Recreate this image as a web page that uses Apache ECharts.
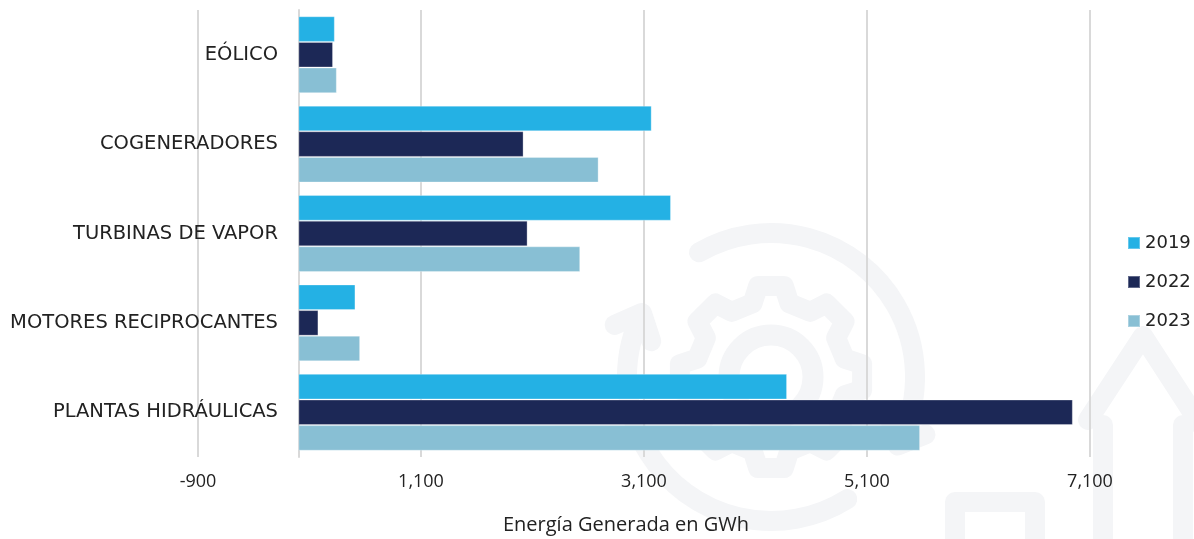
<!DOCTYPE html>
<html>
<head>
<meta charset="utf-8">
<title>Energía Generada en GWh</title>
<script src="https://cdn.jsdelivr.net/npm/echarts@6/dist/echarts.min.js"></script>
<style>
  html, body { margin: 0; padding: 0; background: #ffffff; }
  #chart { width: 1194px; height: 539px; }
</style>
</head>
<body>
<div id="chart"></div>
<script>
// Generation technologies (top to bottom)
const categories = ['EÓLICO', 'COGENERADORES', 'TURBINAS DE VAPOR', 'MOTORES RECIPROCANTES', 'PLANTAS HIDRÁULICAS'];
const years = ['2019', '2022', '2023'];

// Energy generated per technology, GWh
const gen2019 = [327, 3169, 3342, 512, 4383];
const gen2022 = [311, 2020, 2056, 180, 6946];
const gen2023 = [345, 2693, 2528, 554, 5576];

// Value axis range and tick step
const axisMin = -900;
const axisMax = 7100;
const axisStep = 2000;

const colors = ['#24b1e4', '#1c2856', '#88bfd4'];
const seriesValues = [gen2019, gen2022, gen2023];

// Faint background emblem: gear inside a circular arrow, plus a house outline
const mark = '#f4f5f7';
const cx = 771, cy = 377;
function gearPoints(rTip, rRoot, teeth) {
  const pts = [];
  const step = 360 / teeth;
  for (let k = 0; k < teeth; k++) {
    const c = -90 + k * step;
    [[rRoot, c - 14], [rTip, c - 8], [rTip, c + 8], [rRoot, c + 14]].forEach(([r, a]) => {
      const t = a * Math.PI / 180;
      pts.push([cx + r * Math.cos(t), cy + r * Math.sin(t)]);
    });
  }
  return pts;
}
function chevron(angleDeg, r, len, spread, dir) {
  const a = angleDeg * Math.PI / 180;
  const px = cx + r * Math.cos(a), py = cy + r * Math.sin(a);
  const tx = -Math.sin(a) * dir, ty = Math.cos(a) * dir;
  const nx = Math.cos(a), ny = Math.sin(a);
  return [
    [px - len * tx + spread * nx, py - len * ty + spread * ny],
    [px + 6 * tx, py + 6 * ty],
    [px - len * tx - spread * nx, py - len * ty - spread * ny]
  ];
}
const deg = d => d * Math.PI / 180;
const lineStyle = { fill: null, stroke: mark, lineWidth: 20, lineCap: 'round', lineJoin: 'round' };
const emblem = [
  { type: 'arc', shape: { cx, cy, r: 144, startAngle: deg(-120), endAngle: deg(26), clockwise: true }, style: lineStyle },
  { type: 'arc', shape: { cx, cy, r: 144, startAngle: deg(58), endAngle: deg(204), clockwise: true }, style: lineStyle },
  { type: 'polyline', shape: { points: chevron(204, 144, 16, 20, 1) }, style: lineStyle },
  { type: 'polyline', shape: { points: chevron(26, 144, 16, 20, 1) }, style: lineStyle },
  { type: 'polygon', shape: { points: gearPoints(92, 76, 8) }, style: lineStyle },
  { type: 'circle', shape: { cx, cy, r: 42 }, style: Object.assign({}, lineStyle, { lineWidth: 21 }) },
  { type: 'polyline', shape: { points: [[1088, 420], [1143, 336], [1200, 424]] }, style: lineStyle },
  { type: 'polyline', shape: { points: [[1103, 425], [1103, 560]] }, style: lineStyle },
  { type: 'polyline', shape: { points: [[1183, 425], [1183, 560]] }, style: lineStyle },
  { type: 'polyline', shape: { points: [[955, 560], [955, 502], [1035, 502], [1035, 560]] }, style: lineStyle }
].map(g => Object.assign(g, { z: -10, silent: true }));

const chart = echarts.init(document.getElementById('chart'), null, { renderer: 'canvas' });

chart.setOption({
  animation: false,
  backgroundColor: '#ffffff',
  graphic: emblem,
  color: colors,
  grid: { left: 198, right: 104, top: 10, bottom: 82, containLabel: false, outerBoundsMode: 'none' },
  legend: {
    orient: 'vertical',
    left: 1122,
    top: 228,
    itemWidth: 12,
    itemHeight: 12,
    itemGap: 19,
    icon: 'rect',
    data: years,
    textStyle: { fontFamily: 'DejaVu Sans', fontSize: 18, color: '#222', lineHeight: 20 }
  },
  xAxis: {
    type: 'value',
    min: axisMin,
    max: axisMax,
    interval: axisStep,
    name: 'Energía Generada en GWh',
    nameLocation: 'middle',
    nameGap: 58,
    nameTextStyle: { fontFamily: 'Open Sans', fontSize: 20, color: '#222', padding: [0, 36, 0, 0] },
    axisLine: { show: false },
    axisTick: { show: false },
    axisLabel: {
      margin: 16,
      fontFamily: 'Open Sans',
      fontSize: 18,
      color: '#222',
      formatter: v => v.toLocaleString('en-US')
    },
    splitLine: { show: true, lineStyle: { color: '#d9d9d9', width: 2 } }
  },
  yAxis: {
    type: 'category',
    inverse: true,
    data: categories,
    axisLine: { show: true, onZero: true, lineStyle: { color: '#d9d9d9', width: 2 } },
    axisTick: { show: false },
    // labels sit just left of the zero line, which lies 100px inside the grid
    axisLabel: { margin: -80, fontFamily: 'DejaVu Sans', fontSize: 19.5, color: '#222' }
  },
  series: years.map((y, i) => ({
    name: y,
    type: 'bar',
    data: seriesValues[i],
    barGap: '0%',
    barCategoryGap: '14%',
    itemStyle: { color: colors[i], borderColor: 'rgba(255,255,255,0.3)', borderWidth: 1 }
  }))
});
</script>
</body>
</html>
